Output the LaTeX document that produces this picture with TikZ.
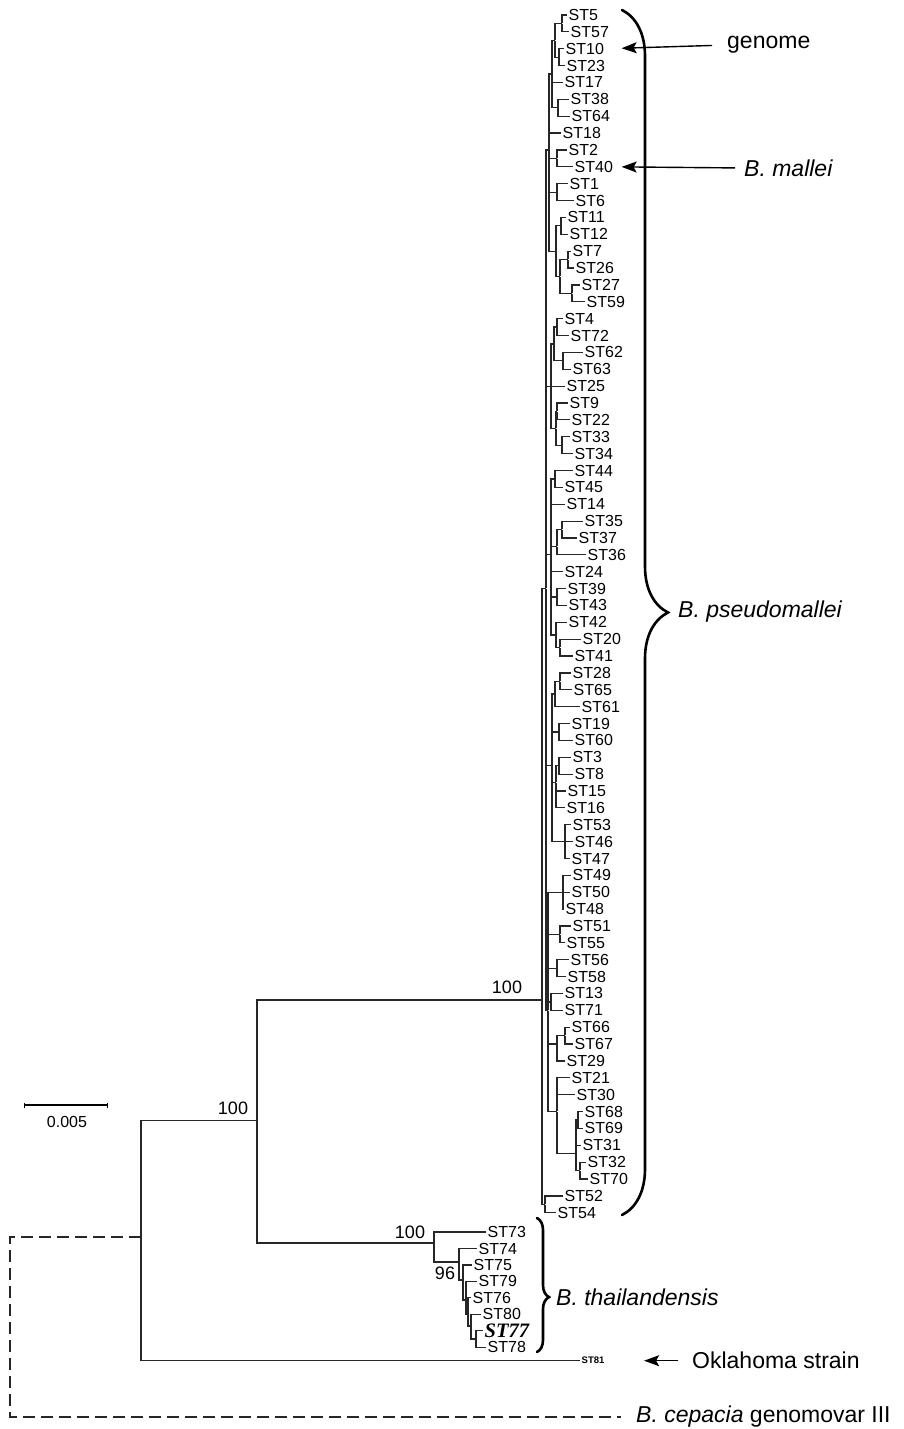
\documentclass[tikz,border=0pt]{standalone}
\usepackage{fontspec}
\setmainfont{Liberation Sans}
\newfontfamily\tnr{Liberation Serif}
\usetikzlibrary{decorations.pathreplacing,arrows.meta}
\begin{document}
\begin{tikzpicture}[x=1pt,y=-1pt,
  br/.style={line width=1.2pt, black!85},
  leaf/.style={anchor=west, inner sep=1.5pt, font=\fontsize{16}{16}\selectfont},
  inode/.style={inner sep=0pt, minimum size=0pt},
  big/.style={anchor=west, inner sep=0pt, font=\fontsize{23}{23}\selectfont},
  boot/.style={font=\fontsize{18}{18}\selectfont, inner sep=0pt},
  arr/.style={line width=1.4pt, -{Stealth[length=15pt,width=11pt,inset=3pt]}},
  bracebig/.style={line width=2.6pt, line cap=round, decorate, decoration={brace, amplitude=#1}},
]
\useasboundingbox[fill=white] (0,0) rectangle (904,1429);

% ---------- B. pseudomallei clade (y in leaf rows) ----------
\begin{scope}[y=-16.87pt, yshift=1.87pt]
\foreach \n/\x/\i in {ST5/567/1, ST57/569/2, ST10/564/3, ST23/565/4, ST17/563/5,
  ST38/569/6, ST64/570/7, ST18/561/8, ST2/567/9, ST40/573/10, ST1/568/11, ST6/574/12,
  ST11/566/13, ST12/568/14, ST7/571/15, ST26/574/16, ST27/580/17, ST59/585/18,
  ST4/563/19, ST72/569/20, ST62/583/21, ST63/571/22, ST25/565/23, ST9/568/24,
  ST22/570/25, ST33/570/26, ST34/573/27, ST44/573/28, ST45/563/29, ST14/565/30,
  ST35/583/31, ST37/577/32, ST36/586/33, ST24/563/34, ST39/566/35, ST43/567/36,
  ST42/567/37, ST20/581/38, ST41/573/39, ST28/571/40, ST65/572/41, ST61/580/42,
  ST19/570/43, ST60/573/44, ST3/571/45, ST8/573/46, ST15/566/47, ST16/565/48,
  ST53/571/49, ST46/573/50, ST47/570/51, ST49/571/52, ST50/570/53, ST48/564/54,
  ST51/571/55, ST55/565/56, ST56/569/57, ST58/566/58, ST13/563/59, ST71/563/60,
  ST66/570/61, ST67/573/62, ST29/565/63, ST21/570/64, ST30/575/65, ST68/583/66,
  ST69/583/67, ST31/581/68, ST32/586/69, ST70/588/70, ST52/563/71, ST54/556/72}
  \node[leaf] (\n) at (\x,\i) {\n};
\foreach \n/\x/\i in {a1/562/1.5, a2/559/3.5, a3/555/2.5, a4/558/6.5, a5/552/4.5,
  a6/557/9.5, a7/557/11.5, a8/561/13.5, a9/568/15.5, a10/572/17.5, a11/560/16.5,
  a12/556/15, Ga/549/9,
  b1/557/19.5, b2/563/21.5, b3/554/20.5, b4/557/24.5, b5/562/26.5, b6/556/25.5, Gb/551/23,
  c1/555/28.5, c2/562/31.5, c3/557/32.5, c4/557/35.5, c5/560/38.5, c6/556/37.75, Gc/551/33,
  d1/560/40.5, d2/555/41.25, d3/559/43.5, d4/559/45.5, d5/556/46.5, d6/565/50, Gd/552/45.5,
  e1/563/53, e2/560/55.5, e3/557/57.5, e4/551/59.5, e5/565/61.5, e6/557/62,
  f1/578/66.5, f2/580/69.5, f3/576/68.5, f4/557/66, Ge/548/60,
  g1/545/71.5, H/546/35, P/542/59.39}
  \node[inode] (\n) at (\x,\i) {};
\end{scope}

\foreach \p/\c in {a1/ST5, a1/ST57, a2/ST10, a2/ST23, a3/a1, a3/a2, a4/ST38, a4/ST64,
  a5/a3, a5/ST17, a5/a4, a6/ST2, a6/ST40, a7/ST1, a7/ST6, a8/ST11, a8/ST12,
  a9/ST7, a9/ST26, a10/ST27, a10/ST59, a11/a9, a11/a10, a12/a8, a12/a11,
  Ga/a5, Ga/ST18, Ga/a6, Ga/a7, Ga/a12,
  b1/ST4, b1/ST72, b2/ST62, b2/ST63, b3/b1, b3/b2, b4/ST9, b4/ST22, b5/ST33, b5/ST34,
  b6/b4, b6/b5, Gb/b3, Gb/ST25, Gb/b6,
  c1/ST44, c1/ST45, c2/ST35, c2/ST37, c3/c2, c3/ST36, c4/ST39, c4/ST43, c5/ST20, c5/ST41,
  c6/ST42, c6/c5, Gc/c1, Gc/ST14, Gc/c3, Gc/ST24, Gc/c4, Gc/c6,
  d1/ST28, d1/ST65, d2/d1, d2/ST61, d3/ST19, d3/ST60, d4/ST3, d4/ST8, d5/d4, d5/ST15, d5/ST16,
  d6/ST53, d6/ST46, d6/ST47, Gd/d2, Gd/d3, Gd/d5, Gd/d6,
  e1/ST49, e1/ST50, e1/ST48, e2/ST51, e2/ST55, e3/ST56, e3/ST58, e4/ST13, e4/ST71,
  e5/ST66, e5/ST67, e6/e5, e6/ST29, f1/ST68, f1/ST69, f2/ST32, f2/ST70, f3/f1, f3/ST31, f3/f2,
  f4/ST21, f4/ST30, f4/f3, Ge/e1, Ge/e2, Ge/e3, Ge/e4, Ge/e6, Ge/f4,
  g1/ST52, g1/ST54, H/Ga, H/Gb, H/Gc, H/Gd, H/Ge, P/H, P/g1}
  \draw[br] (\p) |- (\c.west);

% ---------- B. thailandensis clade ----------
\foreach \n/\x/\y in {ST73/486/1232, ST74/477/1248.5, ST75/472/1264.9, ST79/477/1281.4,
  ST76/471/1297.8, ST80/481/1314.3, ST78/486/1347.2}
  \node[leaf] (\n) at (\x,\y) {\n};
\node[leaf, font=\fontsize{20.5}{20.5}\selectfont\tnr\bfseries\itshape] (ST77) at (483,1330.7) {ST77};
\foreach \n/\x/\y in {A/434/1243, B/459/1262, C/463/1280, D/466/1300, E/468/1314,
  F/471/1326, G/476/1339}
  \node[inode] (\n) at (\x,\y) {};
\foreach \p/\c in {A/ST73, A/B, B/ST74, B/C, C/ST75, C/D, D/ST79, D/E, E/ST76, E/F,
  F/ST80, F/G, G/ST77, G/ST78}
  \draw[br] (\p) |- (\c.west);

% ---------- backbone ----------
\node[inode] (I) at (257,1120.7) {};
\node[inode] (R) at (141,1237) {};
\node[leaf, inner sep=1.5pt, font=\fontsize{9.5}{9.5}\selectfont\bfseries] (ST81) at (580,1360.7) {ST81};
\draw[br] (R) |- (I);
\draw[br] (I) |- (P);
\draw[br] (I) |- (A);
\draw[br] (R) |- (ST81.west);

% outgroup (dashed)
\coordinate (dk) at (10,1237);
\node[big] (Bcep) at (636,1417) {\itshape B. cepacia\upshape{} genomovar III};
\coordinate (Oend) at (621,1417);
\draw[br, line width=1.3pt, dash pattern=on 12pt off 6pt] (R) -- (dk) |- (Oend);

% bootstrap values
\node[boot] at (507,987) {100};
\node[boot] at (233,1108) {100};
\node[boot] at (410,1232) {100};
\node[boot] at (445,1273) {96};

% scale bar
\draw[line width=1.2pt, {Bar[width=5pt]}-{Bar[width=5pt]}] (24,1105) -- (108,1105);
\node[font=\fontsize{16}{16}\selectfont, inner sep=0pt] at (67,1122) {0.005};

% braces and group labels
\draw[bracebig=46pt] (622,10) -- (622,1215);
\node[big] (Bpse) at (678,612) {\itshape B. pseudomallei};
\draw[bracebig=12pt, decoration={aspect=0.59}] (537,1218) -- (537,1352);
\node[big] (Btha) at (556,1297) {\itshape B. thailandensis};

% annotations with arrows
\node[big] (gen) at (727,45) {genome};
\draw[arr, shorten <=15pt, shorten >=16pt] (gen.west) -- (ST10.east);
\node[big] (Bmal) at (744,168) {\itshape B. mallei};
\draw[arr, shorten <=9pt, shorten >=7pt] (Bmal.west) -- (ST40.east);
\node[big] (Okla) at (692,1360.7) {Oklahoma strain};
\draw[arr, shorten <=14pt, shorten >=38pt] (Okla.west) -- (ST81.east);
\end{tikzpicture}
\end{document}
